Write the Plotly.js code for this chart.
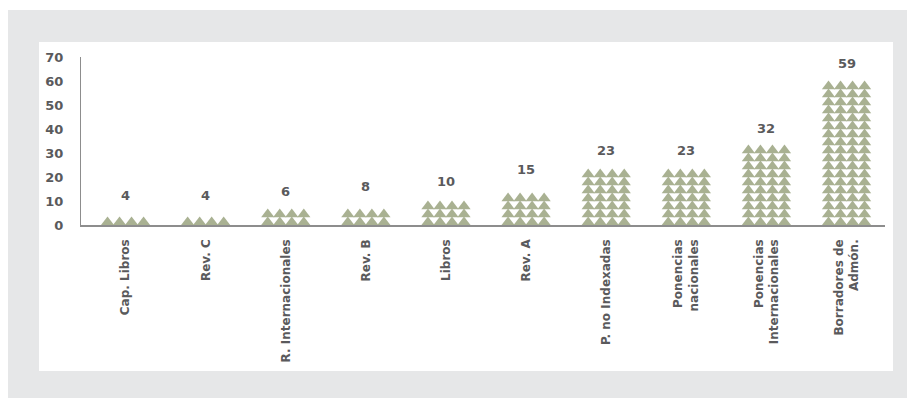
<!DOCTYPE html>
<html>
<head>
<meta charset="utf-8">
<script src="https://cdn.plot.ly/plotly-3.0.1.min.js"></script>
<style>html,body{margin:0;padding:0;background:#fff;}#chart{width:907px;height:398px;}</style>
</head>
<body>
<div id="chart"></div>
<script>
const categories = ['Cap. Libros','Rev. C','R. Internacionales','Rev. B','Libros','Rev. A','P. no Indexadas','Ponencias<br>nacionales','Ponencias<br>Internacionales','Borradores de<br>Admón.'];
const values = [4, 4, 6, 8, 10, 15, 23, 23, 32, 59];
const yTickVals = [0, 10, 20, 30, 40, 50, 60, 70];

const GREEN = '#a9b192';
const TEXT = '#5a5a5c';
const FONT = 'DejaVu Sans, Liberation Sans, Arial, sans-serif';

// pictogram: stacked rows of 4 triangles per bar, row count derived from value
const colOffsets = [-0.225, -0.075, 0.075, 0.225];
const rowStep = 3.333, triH = 3.44, baseOff = 1.146;
const tx = [], ty = [];
values.forEach((v, i) => {
  const n = Math.max(1, Math.round((v - triH) / rowStep) + 1);
  for (let k = 0; k < n; k++) {
    colOffsets.forEach(o => { tx.push(i + o); ty.push(k * rowStep + baseOff); });
  }
});

const idx = categories.map((c, i) => i);

const traces = [
  {type: 'bar', x: idx, y: values, width: 0.6, marker: {color: 'rgba(0,0,0,0)'}, hoverinfo: 'x+y', showlegend: false},
  {type: 'scatter', mode: 'markers', x: tx, y: ty, hoverinfo: 'skip', showlegend: false,
   marker: {symbol: 'triangle-up', size: 11.5, color: GREEN, line: {width: 0}}}
];

const L = 81, R = 885, T = 57, B = 225;
const pw = R - L, ph = B - T;
const px = x => (x - L) / pw;
const py = y => (B - y) / ph;

const layout = {
  width: 907, height: 398,
  margin: {l: L, r: 907 - R, t: T, b: 398 - B, pad: 0},
  paper_bgcolor: '#ffffff',
  plot_bgcolor: 'rgba(0,0,0,0)',
  font: {family: FONT, color: TEXT, size: 12},
  showlegend: false,
  xaxis: {
    range: [-0.556, 9.48], tickvals: idx, ticktext: categories, tickangle: -90,
    showgrid: false, zeroline: false, showline: true, linecolor: '#8d8d8d', linewidth: 1.5,
    ticks: '', ticklabelstandoff: 8,
    tickfont: {family: FONT, size: 12, color: TEXT, weight: 'bold'}
  },
  yaxis: {
    range: [0, 70], tickvals: yTickVals, showgrid: false, zeroline: false,
    showline: true, linecolor: '#8d8d8d', linewidth: 1, ticks: '', ticklabelstandoff: 14,
    tickfont: {family: FONT, size: 13, color: TEXT, weight: 'bold'}
  },
  shapes: [
    {type: 'rect', xref: 'paper', yref: 'paper', x0: px(8), x1: px(907), y0: py(398), y1: py(10),
     fillcolor: '#e6e7e8', line: {width: 0}, layer: 'below'},
    {type: 'rect', xref: 'paper', yref: 'paper', x0: px(39), x1: px(893), y0: py(371), y1: py(42),
     fillcolor: '#ffffff', line: {width: 0}, layer: 'below'}
  ],
  annotations: values.map((v, i) => ({
    x: i, y: v, xref: 'x', yref: 'y', text: String(v), showarrow: false,
    yanchor: 'bottom', yshift: 10,
    font: {family: FONT, size: 13, color: TEXT, weight: 'bold'}
  }))
};

Plotly.newPlot('chart', traces, layout, {displayModeBar: false, staticPlot: true});
</script>
</body>
</html>
